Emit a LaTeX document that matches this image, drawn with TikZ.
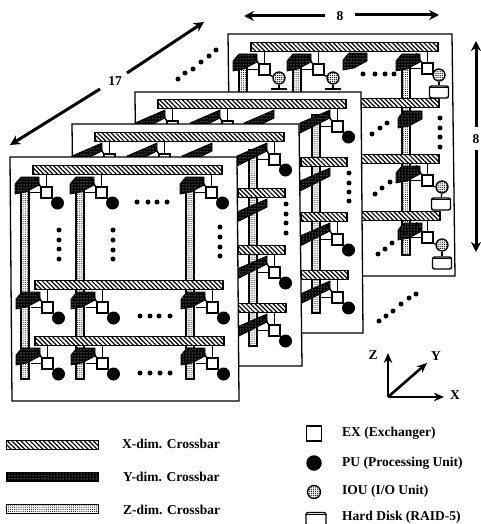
\documentclass[tikz,border=0pt]{standalone}
\usepackage{fontspec}
\setmainfont{Liberation Serif}
\usetikzlibrary{patterns.meta,arrows.meta}
\tikzset{
  plane/.style={draw=black,line width=1.3pt,fill=white,line join=miter},
  xbarst/.style={draw=black,line width=1.2pt,inner sep=0pt,pattern={Lines[angle=-45,distance=3.2pt,line width=1.2pt]},preaction={fill=white}},
  zbarst/.style={draw=black,line width=1.6pt,preaction={fill=white},pattern={Dots[radius=0.55pt,distance=2.1pt]}},
  ybarst/.style={draw=black,line width=.8pt,preaction={fill=black},pattern={Dots[radius=0.5pt,distance=3pt]},pattern color=white},
  exbox/.style={draw=black,line width=1.3pt,fill=white,inner sep=0pt,minimum size=11pt},
  punode/.style={circle,fill=black,inner sep=0pt,minimum size=13pt},
  iounode/.style={circle,draw=black,line width=1.3pt,inner sep=0pt,minimum size=12pt,preaction={fill=white},pattern={Dots[radius=0.6pt,distance=1.9pt]}},
  disknode/.style={draw=black,line width=1.4pt,fill=white,rounded corners=2pt,inner sep=0pt,minimum width=19pt,minimum height=12pt},
  wire/.style={draw=black,line width=1.4pt},
  bigarrow/.style={line width=3pt,-{Stealth[length=10pt,width=10pt]}},
  axis/.style={line width=2.6pt,-{Stealth[length=10pt,width=8.5pt]}},
  label/.style={font=\bfseries\fontsize{13.5}{15}\selectfont,anchor=west,inner sep=0pt},
  dimlabel/.style={font=\bfseries\fontsize{13.5}{15}\selectfont,inner sep=0pt}
}
% horizontal crossbar: name, x1, x2, y
\newcommand\xcross[4]{\node[xbarst,minimum width=#3pt-#2pt,minimum height=8.5pt] (#1) at ({(#2+#3)/2},#4) {};}
% vertical crossbar: x, y1, y2
\newcommand\zcross[3]{\draw[zbarst] ({#1-3.8},#2) rectangle ({#1+3.8},#3);}
% short / long Y crossbar: x, y
\newcommand\ybS[2]{\draw[ybarst] ({#1-10},{#2+14}) -- ({#1-4},{#2+7}) -- ({#1+14},{#2+7}) -- ({#1+14},{#2+15}) -- ({#1+1},{#2+22}) -- ({#1-10},{#2+24}) -- cycle;}
\newcommand\ybL[2]{\draw[ybarst] ({#1-16},{#2+19}) -- ({#1+14},{#2+6}) -- ({#1+14},{#2+14}) -- ({#1-16},{#2+29}) -- cycle;}
% exchanger with wires: name, x, y, bar node
\newcommand\exch[4]{%
  \node[exbox] (#1) at ({#2+21.5},{#3+22.5}) {};
  \draw[wire] (#1.north) -- (#1.north |- #4.south);
  \draw[wire] (#1.west) -- ++(-10,0);
  \draw[wire] (#1.north west) -- ++(-5,-9);
}
% PU attached: name, x, y, bar node
\newcommand\cellp[4]{%
  \exch{#1}{#2}{#3}{#4}
  \node[punode] (#1p) at ({#2+32.5},{#3+33}) {};
  \draw[wire] (#1) -- (#1p);
}
% IOU: name, x, y, bar node, iou x, iou y
\newcommand\celli[6]{%
  \exch{#1}{#2}{#3}{#4}
  \node[iounode] (#1i) at (#5,#6) {};
  \draw[wire] (#1.south east) -- (#1i);
}
% IOU with disk: name, x, y, bar node, iou x, iou y, disk x, disk y
\newcommand\celld[8]{%
  \celli{#1}{#2}{#3}{#4}{#5}{#6}
  \node[disknode] (#1d) at (#7,#8) {};
  \draw[wire] (#1i) -- (#1d);
  \draw[line width=.9pt] ([yshift=-2.5pt]#1d.north west) -- ([yshift=-2.5pt]#1d.north east);
}
\newcommand\dotlist[1]{\foreach \p in {#1} {\fill[black] \p circle (2.5);}}
\begin{document}
\begin{tikzpicture}[x=1pt,y=-1pt]
\useasboundingbox (0,0) rectangle (481,524);
% --- dimension arrows
\node[dimlabel] (n17) at (115,81) {17};
\coordinate (a1) at (100,89); \coordinate (a2) at (10,145);
\coordinate (a3) at (127,73); \coordinate (a4) at (204,22);
\draw[bigarrow] (a1) -- (a2);
\draw[bigarrow] (a3) -- (a4);
\node[dimlabel] (n8a) at (340,16) {8};
\coordinate (b1) at (325,16); \coordinate (b2) at (244,16);
\coordinate (b3) at (355,15); \coordinate (b4) at (439,15);
\draw[bigarrow] (b1) -- (b2);
\draw[bigarrow] (b3) -- (b4);
\node[dimlabel] (n8b) at (476,139) {8};
\coordinate (c1) at (476,127); \coordinate (c2) at (476,41);
\coordinate (c3) at (476,150); \coordinate (c4) at (476,252);
\draw[bigarrow] (c1) -- (c2);
\draw[bigarrow] (c3) -- (c4);
\dotlist{(178,79),(185,73),(193,69),(201,62),(209,56),(216,50)}
\dotlist{(379,321),(386,316),(393,311),(401,304),(409,298),(416,294)}

% --- plane 4 (rear)
\draw[plane] (228,34) -- (452,34) -- (455,276) -- (231,276) -- cycle;
\zcross{243}{55}{95}\zcross{297}{55}{95}\zcross{406}{55}{255}
\xcross{d1}{251}{438}{47}\xcross{d2}{251}{439}{103}\xcross{d3}{251}{439}{159}\xcross{d4}{251}{440}{216}
\ybS{243}{47}\celli{da}{243}{47}{d1}{279}{78}
\draw[wire] (dai) -- ++(0,11) coordinate (dab);
\draw[line width=2.2pt] ([xshift=-8pt]dab) -- ([xshift=8pt]dab);
\ybS{297}{47}\celli{db}{297}{47}{d1}{333}{78}
\draw[wire] (dbi) -- ++(0,11) coordinate (dbb);
\draw[line width=2.2pt] ([xshift=-8pt]dbb) -- ([xshift=8pt]dbb);
\ybS{353}{46}
\ybS{406}{47}\celld{dc}{406}{46}{d1}{439}{75}{439}{92}
\ybS{408}{104}
\ybS{406}{159}\celld{dd}{406}{158}{d3}{442}{187}{441}{204}
\ybS{408}{216}\celld{de}{406}{215}{d4}{442}{245}{442}{263}
\dotlist{(363,74),(375,74),(385,74),(394,74)}
\dotlist{(372,134),(380,128),(387,123)}
\dotlist{(440,118),(440,128),(440,137),(440,147)}
\dotlist{(375,194),(382,188),(390,182)}
\dotlist{(378,254),(385,249),(392,243)}

% --- plane 3
\draw[plane] (135,92) -- (361,92) -- (363,333) -- (137,333) -- cycle;
\zcross{316}{115}{313}
\xcross{c1}{158}{346}{104}\xcross{c2}{301}{347}{162}\xcross{c3}{301}{347}{217}\xcross{c4}{301}{348}{275}
\ybL{151}{104}\exch{ca}{151}{104}{c1}
\ybL{206}{104}\exch{cb}{206}{104}{c1}
\ybL{260}{104}
\ybL{316}{104}\cellp{cc}{316}{104}{c1}
\ybL{316}{162}
\ybL{316}{217}\cellp{cd}{316}{217}{c3}
\ybL{316}{275}\cellp{ce}{316}{275}{c4}
\dotlist{(349,173),(349,183),(349,192),(349,201)}

% --- plane 2
\draw[plane] (72,124) -- (299,124) -- (302,366) -- (75,366) -- cycle;
\zcross{253}{150}{346}
\xcross{b1}{95}{284}{137}\xcross{b2}{238}{285}{193}\xcross{b3}{238}{285}{250}\xcross{b4}{238}{286}{308}
\ybL{88}{137}\exch{ba}{88}{137}{b1}
\ybL{143}{137}\exch{bb}{143}{137}{b1}
\ybL{198}{137}
\ybL{253}{137}\cellp{bc}{253}{137}{b1}
\ybL{253}{193}
\ybL{253}{250}\cellp{bd}{253}{250}{b3}
\ybL{253}{308}\cellp{be}{253}{308}{b4}
\dotlist{(286,204),(286,214),(286,223),(286,233)}

% --- plane 1 (front)
\draw[plane] (10,157) -- (237,157) -- (239,401) -- (12,401) -- cycle;
\zcross{25}{182}{379}\zcross{80}{182}{379}\zcross{190}{182}{379}
\xcross{a1}{33}{222}{170}\xcross{a2}{35}{223}{285}\xcross{a3}{35}{224}{341}
\foreach \n/\x in {a/25,b/80,c/190}{
  \ybS{\x}{170}\cellp{f\n}{\x}{170}{a1}
  \ybS{\x+1}{285}\cellp{g\n}{\x+1}{285}{a2}
  \ybS{\x+1}{341}\cellp{h\n}{\x+1}{341}{a3}
}
\dotlist{(137,202),(148,202),(157,202),(167,202)}
\dotlist{(140,316),(150,316),(159,316),(170,316)}
\dotlist{(140,373),(150,373),(160,373),(170,373)}
\dotlist{(59,230),(59,240),(59,249),(59,259)}
\dotlist{(113,230),(113,240),(113,250),(113,259)}
\dotlist{(220,227),(220,237),(220,247),(220,256)}

% --- axes
\coordinate (o) at (388,397);
\coordinate (zt) at (388,353); \coordinate (yt) at (427,363); \coordinate (xt) at (444,397);
\draw[axis] (o) -- (zt);
\draw[axis] (o) -- (yt);
\draw[axis] (o) -- (xt);
\node[dimlabel] (zl) at (373,355) {Z};
\node[dimlabel] (yl) at (436,356) {Y};
\node[dimlabel] (xl) at (455,395) {X};

% --- legend
\node[xbarst,minimum width=92pt,minimum height=9pt] (lx) at (52.5,445) {};
\node[ybarst,rectangle,minimum width=92pt,minimum height=9pt] (ly) at (52.5,476.5) {};
\node[zbarst,rectangle,minimum width=92pt,minimum height=9pt] (lz) at (52.5,509) {};
\node[label] (tx) at (122,444) {X-dim. Crossbar};
\node[label] (ty) at (123,477) {Y-dim. Crossbar};
\node[label] (tz) at (123,510) {Z-dim. Crossbar};
\node[exbox,minimum size=15pt] (lex) at (314,433.5) {};
\node[punode,minimum size=15.5pt] (lpu) at (314,463) {};
\node[iounode,minimum size=13pt] (lio) at (314,492) {};
\node[disknode,minimum width=20pt,minimum height=13pt] (ldk) at (316,519) {};
\draw[line width=1.3pt] ([yshift=-2.5pt]ldk.north west) -- ([yshift=-2.5pt]ldk.north east);
\node[label] (t1) at (342,433) {EX (Exchanger)};
\node[label] (t2) at (342,463) {PU (Processing Unit)};
\node[label] (t3) at (342,491) {IOU (I/O Unit)};
\node[label] (t4) at (342,517) {Hard Disk (RAID-5)};
\end{tikzpicture}
\end{document}
